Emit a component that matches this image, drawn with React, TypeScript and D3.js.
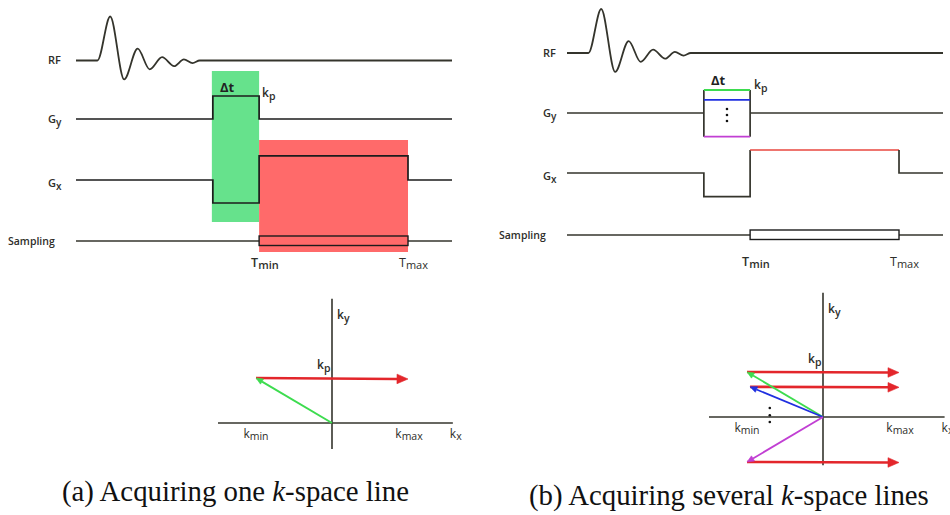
import React from "react";
import * as d3 from "d3";

const W = 950;
const H = 515;

// ---- pulse-sequence timing (time units across the drawn window) ----
const timeDomain: [number, number] = [0, 10];
const phaseStart = 3.64; // start of phase-encode blip / read prephaser
const readStart = 4.87; // Tmin
const readEnd = 8.83; // Tmax

// RF excitation: extremes of the damped sinc-like lobe
const rfTimes = [0, 0.57, 0.91, 1.28, 1.64, 1.96, 2.29, 2.61, 2.87, 3.1, 3.29, 10];
const rfAmps = [0, 0, 1, -0.43, 0.27, -0.2, 0.075, -0.13, 0.025, -0.06, 0, 0];

// gradient amplitudes (relative units)
const gyAmpsA = [1];
const gyAmpsB = [1, 0.57, -1.03];
const gyColorsB = ["#3ddc4f", "#1f2fe0", "#c13fd3"];
const gxPrephaseA = -1;
const gxReadoutA = 1.05;
const gxPrephaseB = -1.03;
const gxReadoutB = 1;

// k-space trajectories
const kMin = -1;
const kMax = 1;
const kyLinesA = [1];
const kyLinesB = [1, 0.67, -1];
const kxStartsB = [-1, -0.96, -1];
const kColorsB = ["#3ddc4f", "#1f2fe0", "#c13fd3"];

const rowNames = ["RF", "G", "G", "Sampling"];
const rowSubs = ["", "y", "x", ""];

const INK = "#34342c";
const DARK = "#1c1c1c";
const RED = "#e3262b";
const GREEN = "#3ddc4f";
const LABEL_FONT = "'Open Sans', Lato, sans-serif";
const SERIF = "'Liberation Serif', 'DejaVu Serif', serif";

type Panel = {
  x0: number;
  rows: number[];
  labelX: number;
  samplingX: number;
  kOx: number;
  kOy: number;
  kyTop: number;
  kyBottom: number;
  kxLeft: number;
  kxRight: number;
};

const panelA: Panel = {
  x0: 76,
  rows: [60.5, 119, 180, 241],
  labelX: 48,
  samplingX: 8,
  kOx: 332,
  kOy: 423,
  kyTop: 2.76,
  kyBottom: -0.58,
  kxLeft: -1.5,
  kxRight: 1.59,
};

const panelB: Panel = {
  x0: 567,
  rows: [53, 113, 173, 235],
  labelX: 543,
  samplingX: 499,
  kOx: 823,
  kOy: 417,
  kyTop: 2.76,
  kyBottom: -1.07,
  kxLeft: -1.5,
  kxRight: 1.6,
};

const SEQ_W = 376;
const GRAD_PX = 23;
const RF_PX = 44;
const KX_PX = 76;
const KY_PX = 45;

function arrowHead(x1: number, y1: number, x2: number, y2: number, len: number, half: number) {
  const a = Math.atan2(y2 - y1, x2 - x1);
  const bx = x2 - len * Math.cos(a);
  const by = y2 - len * Math.sin(a);
  const px = -Math.sin(a) * half;
  const py = Math.cos(a) * half;
  return {
    head: `M${x2},${y2}L${bx + px},${by + py}L${bx - px},${by - py}Z`,
    bx,
    by,
  };
}

function Arrow({ x1, y1, x2, y2, color, width, len, half }: any) {
  const h = arrowHead(x1, y1, x2, y2, len, half);
  return (
    <g>
      <line x1={x1} y1={y1} x2={h.bx} y2={h.by} stroke={color} strokeWidth={width} />
      <path d={h.head} fill={color} stroke={color} strokeWidth={0.6} />
    </g>
  );
}

function SubText({ x, y, main, sub, size = 12, subSize = 10, dy = 3, weight = 600, anchor = "start" }: any) {
  return (
    <text x={x} y={y} fontFamily={LABEL_FONT} fontSize={size} fill="#2e2e2a" fontWeight={weight} textAnchor={anchor}>
      <tspan>{main}</tspan>
      {sub ? (
        <tspan fontSize={subSize} dy={dy}>
          {sub}
        </tspan>
      ) : null}
    </text>
  );
}

function makeScales(p: Panel) {
  const t = d3.scaleLinear().domain(timeDomain).range([p.x0, p.x0 + SEQ_W]);
  const g = (row: number) => d3.scaleLinear().domain([-1, 1]).range([p.rows[row] + GRAD_PX, p.rows[row] - GRAD_PX]);
  const rf = d3.scaleLinear().domain([-1, 1]).range([p.rows[0] + RF_PX, p.rows[0] - RF_PX]);
  const kx = d3.scaleLinear().domain([-1, 1]).range([p.kOx - KX_PX, p.kOx + KX_PX]);
  const ky = d3.scaleLinear().domain([-1, 1]).range([p.kOy + KY_PX, p.kOy - KY_PX]);
  return { t, g, rf, kx, ky };
}

const lineGen = d3.line<[number, number]>();

function RowLabels({ p }: { p: Panel }) {
  return (
    <g>
      {rowNames.map((n, i) => {
        const dy = [3.5, 4, 7, 4][i];
        const x = i === 3 ? p.samplingX : p.labelX;
        const size = i === 3 ? 10.5 : 11;
        return <SubText key={i} x={x} y={p.rows[i] + dy} main={n} sub={rowSubs[i]} size={size} subSize={10} dy={3} />;
      })}
    </g>
  );
}

function RFTrace({ p, s }: any) {
  const pts: [number, number][] = rfTimes.map((tt, i) => [s.t(tt), s.rf(rfAmps[i])]);
  const d = d3.line<[number, number]>().curve(d3.curveMonotoneX)(pts) || "";
  return <path d={d} fill="none" stroke={INK} strokeWidth={1.8} />;
}

function SamplingRow({ p, s }: any) {
  const y = p.rows[3];
  return (
    <g>
      <line x1={s.t(0)} x2={s.t(readStart)} y1={y} y2={y} stroke={INK} strokeWidth={1.6} />
      <line x1={s.t(readEnd)} x2={s.t(10)} y1={y} y2={y} stroke={INK} strokeWidth={1.6} />
      <rect x={s.t(readStart)} y={y - 5} width={s.t(readEnd) - s.t(readStart)} height={9.5} fill="none" stroke={DARK} strokeWidth={1.4} />
    </g>
  );
}

function TimeLabels({ s, y }: any) {
  return (
    <g>
      <SubText x={s.t(readStart) - 8} y={y} main="T" sub="min" size={12.5} subSize={11} dy={2} weight={600} />
      <SubText x={s.t(readEnd) - 9} y={y} main="T" sub="max" size={12.5} subSize={11} dy={2} weight={400} />
    </g>
  );
}

function KAxes({ p, s }: any) {
  return (
    <g>
      <line x1={s.kx(p.kxLeft)} x2={s.kx(p.kxRight)} y1={s.ky(0)} y2={s.ky(0)} stroke={INK} strokeWidth={1.6} />
      <line x1={s.kx(0)} x2={s.kx(0)} y1={s.ky(p.kyTop)} y2={s.ky(p.kyBottom)} stroke={INK} strokeWidth={1.6} />
      <SubText x={s.kx(0) + 5} y={s.ky(p.kyTop) + 20} main="k" sub="y" size={12} subSize={10.5} dy={3} />
      <SubText x={s.kx(0) - 15} y={s.ky(1) - 9} main="k" sub="p" size={12} subSize={10.5} dy={3} />
      <SubText x={s.kx(kMin)} y={s.ky(0) + 15} main="k" sub="min" size={12} subSize={10.5} dy={2} anchor="middle" weight={400} />
      <SubText x={s.kx(kMax) + 1} y={s.ky(0) + 15} main="k" sub="max" size={12} subSize={10.5} dy={2} anchor="middle" weight={400} />
      <SubText x={s.kx(p.kxRight) - 3} y={s.ky(0) + 15} main="k" sub="x" size={12} subSize={10.5} dy={2} weight={400} />
    </g>
  );
}

function PanelA() {
  const p = panelA;
  const s = makeScales(p);
  const gy = s.g(1);
  const gx = s.g(2);
  const gyPts: [number, number][] = [
    [s.t(0), gy(0)],
    [s.t(phaseStart), gy(0)],
    [s.t(phaseStart), gy(gyAmpsA[0])],
    [s.t(readStart), gy(gyAmpsA[0])],
    [s.t(readStart), gy(0)],
    [s.t(10), gy(0)],
  ];
  const gxPts: [number, number][] = [
    [s.t(0), gx(0)],
    [s.t(phaseStart), gx(0)],
    [s.t(phaseStart), gx(gxPrephaseA)],
    [s.t(readStart), gx(gxPrephaseA)],
    [s.t(readStart), gx(gxReadoutA)],
    [s.t(readEnd), gx(gxReadoutA)],
    [s.t(readEnd), gx(0)],
    [s.t(10), gx(0)],
  ];
  return (
    <g>
      {/* phase-encode window and readout window */}
      <rect x={s.t(phaseStart) - 1} y={71} width={s.t(readStart) - s.t(phaseStart) + 1} height={151} fill="#66e28c" />
      <rect x={s.t(readStart)} y={140} width={s.t(readEnd) - s.t(readStart)} height={112} fill="#ff6a6a" />
      <RowLabels p={p} />
      <RFTrace p={p} s={s} />
      <path d={lineGen(gyPts) || ""} fill="none" stroke={DARK} strokeWidth={1.7} />
      <path d={lineGen(gxPts) || ""} fill="none" stroke={DARK} strokeWidth={1.7} />
      <SamplingRow p={p} s={s} />
      <text x={220} y={92} fontFamily={LABEL_FONT} fontSize={13} fontWeight={700} fill="#222">
        Δt
      </text>
      <SubText x={s.t(readStart) + 3} y={97} main="k" sub="p" size={12} subSize={10.5} dy={3} />
      <TimeLabels s={s} y={267} />
      <KAxes p={p} s={s} />
      {kyLinesA.map((ky, i) => (
        <g key={i}>
          <Arrow x1={s.kx(kMin)} y1={s.ky(ky)} x2={s.kx(kMax)} y2={s.ky(ky) + 1} color={RED} width={2.6} len={11} half={4.8} />
          <Arrow x1={s.kx(0)} y1={s.ky(0)} x2={s.kx(kMin)} y2={s.ky(ky)} color={GREEN} width={2} len={7} half={3} />
        </g>
      ))}
    </g>
  );
}

function PanelB() {
  const p = panelB;
  const s = makeScales(p);
  const gy = s.g(1);
  const gx = s.g(2);
  const gyMax = d3.max(gyAmpsB) as number;
  const gyMin = d3.min(gyAmpsB) as number;
  const gxPre: [number, number][] = [
    [s.t(0), gx(0)],
    [s.t(phaseStart), gx(0)],
    [s.t(phaseStart), gx(gxPrephaseB)],
    [s.t(readStart), gx(gxPrephaseB)],
    [s.t(readStart), gx(gxReadoutB)],
  ];
  const gxPost: [number, number][] = [
    [s.t(readEnd), gx(gxReadoutB)],
    [s.t(readEnd), gx(0)],
    [s.t(10), gx(0)],
  ];
  const cx = (s.t(phaseStart) + s.t(readStart)) / 2;
  return (
    <g>
      <RowLabels p={p} />
      <RFTrace p={p} s={s} />
      {/* phase-encode table */}
      <line x1={s.t(0)} x2={s.t(phaseStart)} y1={gy(0)} y2={gy(0)} stroke={INK} strokeWidth={1.6} />
      <line x1={s.t(readStart)} x2={s.t(10)} y1={gy(0)} y2={gy(0)} stroke={INK} strokeWidth={1.6} />
      {[phaseStart, readStart].map((tt, i) => (
        <line key={i} x1={s.t(tt)} x2={s.t(tt)} y1={gy(gyMax)} y2={gy(gyMin)} stroke={INK} strokeWidth={1.7} />
      ))}
      {gyAmpsB.map((a, i) => (
        <line key={i} x1={s.t(phaseStart)} x2={s.t(readStart)} y1={gy(a)} y2={gy(a)} stroke={gyColorsB[i]} strokeWidth={1.8} />
      ))}
      {[-6, 0, 6].map((d, i) => (
        <circle key={i} cx={cx} cy={gy(0) + 2 + d} r={1.3} fill="#111" />
      ))}
      <path d={lineGen(gxPre) || ""} fill="none" stroke={INK} strokeWidth={1.7} />
      <line x1={s.t(readStart)} x2={s.t(readEnd)} y1={gx(gxReadoutB)} y2={gx(gxReadoutB)} stroke="#e8473f" strokeWidth={1.6} />
      <path d={lineGen(gxPost) || ""} fill="none" stroke={INK} strokeWidth={1.7} />
      <SamplingRow p={p} s={s} />
      <text x={711} y={85} fontFamily={LABEL_FONT} fontSize={13} fontWeight={700} fill="#222">
        Δt
      </text>
      <SubText x={s.t(readStart) + 4} y={89} main="k" sub="p" size={12} subSize={10.5} dy={3} />
      <TimeLabels s={s} y={266} />
      <KAxes p={p} s={s} />
      {/* ellipsis for the intermediate phase-encode steps */}
      {[0.2, 0.04, -0.11].map((v, i) => (
        <circle key={i} cx={s.kx(-0.7)} cy={s.ky(v)} r={1.3} fill="#111" />
      ))}
      {kyLinesB.map((ky, i) => (
        <Arrow key={i} x1={s.kx(kxStartsB[i])} y1={s.ky(ky)} x2={s.kx(kMax)} y2={s.ky(ky) + 0.5} color={RED} width={2.6} len={11} half={4.8} />
      ))}
      {kyLinesB.map((ky, i) => (
        <Arrow key={i} x1={s.kx(0)} y1={s.ky(0)} x2={s.kx(kxStartsB[i])} y2={s.ky(ky)} color={kColorsB[i]} width={1.8} len={7} half={3} />
      ))}
    </g>
  );
}

export default function App() {
  return (
    <svg width={W} height={H} viewBox={`0 0 ${W} ${H}`} style={{ display: "block", position: "absolute", left: 0, top: 0, background: "#fff" }}>
      <rect width={W} height={H} fill="#fff" />
      <PanelA />
      <PanelB />
      <text x={62} y={501} fontFamily={SERIF} fontSize={28.8} fill="#111">
        (a) Acquiring one <tspan fontStyle="italic">k</tspan>-space line
      </text>
      <text x={529} y={505} fontFamily={SERIF} fontSize={28.8} fill="#111">
        (b) Acquiring several <tspan fontStyle="italic">k</tspan>-space lines
      </text>
    </svg>
  );
}
